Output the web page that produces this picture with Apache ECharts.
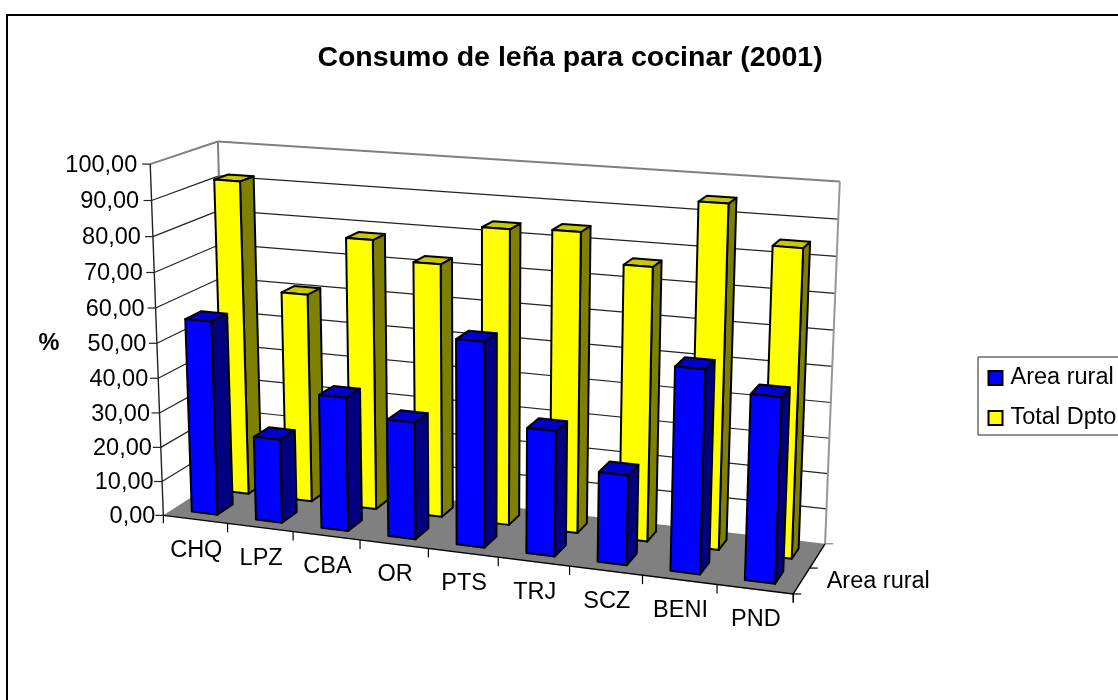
<!DOCTYPE html>
<html><head><meta charset="utf-8">
<style>html,body{margin:0;padding:0;background:#fff}#c{width:1118px;height:700px}</style>
<script src="https://cdn.jsdelivr.net/npm/echarts@6/dist/echarts.min.js"></script>
</head><body><div id="c"></div>
<script>
const categories = ['CHQ','LPZ','CBA','OR','PTS','TRJ','SCZ','BENI','PND'];
const areaRural = [56.1,24.2,38.2,33.2,57.5,35,25,55.6,50.2];
const totalDpto = [91.8,60.9,78,72.7,83.9,84.6,76.6,95,84.7];
const yTicks = [0,10,20,30,40,50,60,70,80,90,100];
const depthLabel = 'Area rural';

const FONT = '"Liberation Sans", Arial, sans-serif';
const LABEL_FONT = '23.5px ' + FONT;
// calibration of the oblique view: [u,v,z] -> pixel
const CAL = [
 [0,0,0,163.5,514.3],[0,1,0,150,164],[0,1,1,217.7,141],[0,0,1,228,475],
 [1,1,1,840,181.7],[1,0,1,825,543],[1,0,0,793,594],
 [1/9,0,0,227.3,523.3],[2/9,0,0,293.3,531.7],[3/9,0,0,359.3,540],[8/9,0,0,717.7,585],
 [1,.9,1,838,219],[0,.9,0,152,201]
];
function solve(A,b){const n=b.length;const M=A.map((r,i)=>r.concat(b[i]));
 for(let i=0;i<n;i++){let p=i;for(let k=i+1;k<n;k++)if(Math.abs(M[k][i])>Math.abs(M[p][i]))p=k;
  [M[i],M[p]]=[M[p],M[i]];
  for(let k=0;k<n;k++){if(k===i)continue;const f=M[k][i]/M[i][i];for(let j=i;j<=n;j++)M[k][j]-=f*M[i][j];}}
 return M.map((r,i)=>r[n]/r[i]);}
const H=(function(){const rows=[],rhs=[];
 CAL.forEach(([u,v,z,x,y])=>{
  rows.push([u,v,z,1,0,0,0,0,-x*u,-x*v,-x*z]);rhs.push(x);
  rows.push([0,0,0,0,u,v,z,1,-y*u,-y*v,-y*z]);rhs.push(y);});
 const n=11,A=[],b=[];
 for(let i=0;i<n;i++){A.push([]);for(let j=0;j<n;j++){let s=0;rows.forEach(r=>s+=r[i]*r[j]);A[i].push(s);}
  let s=0;rows.forEach((r,k)=>s+=r[i]*rhs[k]);b.push(s);}
 return solve(A,b);})();
function P(u,v,z){const w=H[8]*u+H[9]*v+H[10]*z+1;
 return [(H[0]*u+H[1]*v+H[2]*z+H[3])/w,(H[4]*u+H[5]*v+H[6]*z+H[7])/w];}

const G={left:100,top:100,width:900,height:400};
const uOf=(api,i)=>(api.coord([i,0])[0]-G.left)/G.width;   // slot centre
const vOf=(api,val)=>(G.top+G.height-api.coord([0,val])[1])/G.height;

function poly(points,fill,stroke,lw){return {type:'polygon',shape:{points},style:{fill:fill,stroke:stroke||null,lineWidth:lw||0,lineJoin:'round'}};}
function line(a,b,color,lw){return {type:'line',shape:{x1:a[0],y1:a[1],x2:b[0],y2:b[1]},style:{stroke:color,lineWidth:lw||1,fill:null}};}
function txt(x,y,t,align){return {type:'text',style:{x,y,text:t,align:align,verticalAlign:'middle',font:LABEL_FONT,fill:'#000'}};}

function barRender(zFront,zBack,cols){return function(params,api){
 const i=api.value(0),val=api.value(1),slot=api.size([1,0])[0]/G.width;
 const c=uOf(api,i),top=vOf(api,val),hw=slot*0.2;
 const a=c-hw,b=c+hw,S='#000',LW=2;
 return {type:'group',children:[
  poly([P(b,0,zFront),P(b,0,zBack),P(b,top,zBack),P(b,top,zFront)],cols[1],S,LW),
  poly([P(a,top,zFront),P(b,top,zFront),P(b,top,zBack),P(a,top,zBack)],cols[2],S,LW),
  poly([P(a,0,zFront),P(b,0,zFront),P(b,top,zFront),P(a,top,zFront)],cols[0],S,LW)
 ]};};}

function wallRender(params,api){
 const val=api.value(0),v=vOf(api,val),ch=[];
 const L=P(0,v,0),B=P(0,v,1),R=P(1,v,1);
 if(val===100){
  ch.push(poly([P(0,0,1),P(1,0,1),P(1,0,0),P(0,0,0)],'#808080'));
  ch.push(line(L,B,'#808080',2),line(B,R,'#808080',2));
  ch.push(line(B,P(0,0,1),'#808080',2),line(R,P(1,0,1),'#969696',2));
  ch.push(line(L,P(0,0,0),'#222',1.4));
 } else if(val>0){
  ch.push(line(L,B,'#222',1.2),line(B,R,'#222',1.2));
 }
 ch.push(line(L,[L[0]-8,L[1]],'#222',1.2));
 ch.push(txt(L[0]-13+5*(1-v),L[1]+1.3,val.toFixed(2).replace('.',','),'right'));
 return {type:'group',children:ch};}

function catRender(params,api){
 const i=api.value(0),c=uOf(api,i),s=api.size([1,0])[0]/G.width;
 const t=P(c+s/2,0,0),m=P(c,0,0);
 return {type:'group',children:[line(t,[t[0],t[1]+9],'#000',1.2),txt(m[0]+1,m[1]+30.7,categories[i],'center')]};}

function floorEdges(){
 const tick=(u,z,dx,dy,col)=>{const p=P(u,0,z);return line(p,[p[0]+dx,p[1]+dy],col||'#000',1.2);};
 const mid=P(1,0,.5);
 return {type:'group',children:[
 line(P(0,0,0),P(1,0,0),'#000',1.4),line(P(1,0,0),P(1,0,1),'#000',1.4),
 tick(0,0,0,8),tick(1,0,0,8),tick(1,0,8,0),tick(1,.5,8,0),tick(1,1,8,0,'#808080'),
 txt(mid[0]+17,mid[1]+13,depthLabel,'left')]};}

const chart=echarts.init(document.getElementById('c'),null,{renderer:'canvas'});
chart.setOption({
 animation:false,backgroundColor:'#fff',
 title:{text:'Consumo de leña para cocinar (2001)',left:565,top:39,textAlign:'center',
  textStyle:{fontFamily:FONT,fontSize:28.5,fontWeight:'bold',color:'#000'}},
 legend:{data:['Area rural','Total Dpto'],left:978,top:357,orient:'vertical',icon:'rect',itemWidth:14,itemHeight:14,itemGap:16,
  padding:[9,20,5,9.5],borderColor:'#222',borderWidth:1,backgroundColor:'#fff',selectedMode:false,
  textStyle:{fontFamily:FONT,fontSize:23.5,color:'#000',padding:[0,0,0,3]}},
 grid:G,
 xAxis:{type:'category',data:categories,show:false},
 yAxis:{type:'value',min:0,max:100,interval:10,show:false},
 graphic:[
  {type:'rect',silent:true,z:-1,shape:{x:7,y:15,width:1300,height:900},style:{fill:'#fff',stroke:'#000',lineWidth:2}},
  {type:'text',style:{x:49,y:344,text:'%',align:'center',verticalAlign:'middle',font:'bold 23.5px '+FONT,fill:'#000'}}
 ],
 series:[
  {type:'custom',name:'walls',silent:true,z:2,data:yTicks.map(v=>[v]),encode:{y:0},renderItem:wallRender,clip:false},
  {type:'custom',name:'Total Dpto',z:3,data:totalDpto.map((v,i)=>[i,v]),encode:{x:0,y:1},clip:false,
   itemStyle:{color:'#ffff00',borderColor:'#000',borderWidth:2},renderItem:barRender(.635,.85,['#ffff00','#808000','#c8c800'])},
  {type:'custom',name:'Area rural',z:4,data:areaRural.map((v,i)=>[i,v]),encode:{x:0,y:1},clip:false,
   itemStyle:{color:'#0000ff',borderColor:'#000',borderWidth:2},renderItem:barRender(.14,.38,['#0000ff','#000080','#0000c8'])},
  {type:'custom',name:'cats',silent:true,z:2,data:categories.map((c,i)=>[i]),encode:{x:0},renderItem:catRender,clip:false},
  {type:'custom',name:'edges',silent:true,z:2,data:[[0]],renderItem:floorEdges,clip:false}
 ]
});
</script></body></html>
